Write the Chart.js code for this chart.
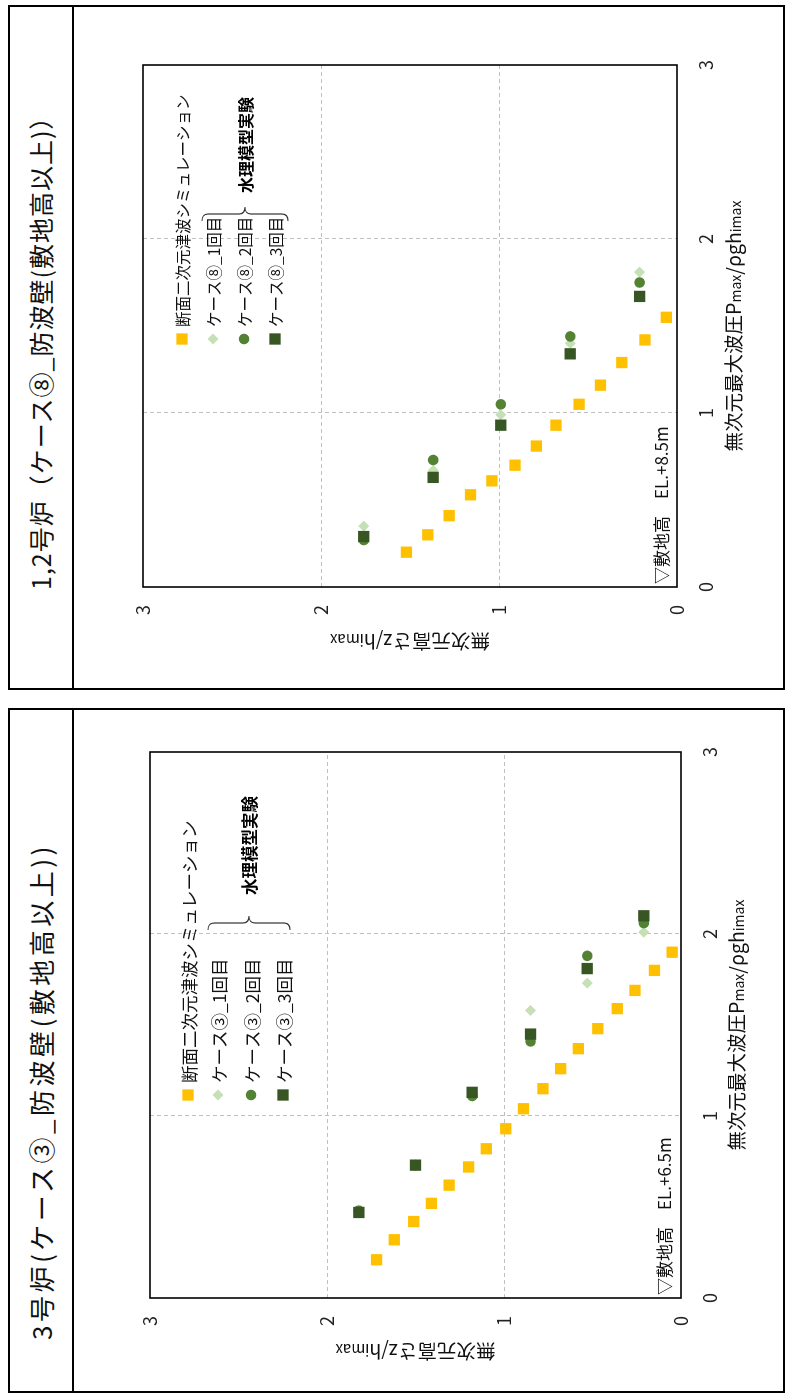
<!DOCTYPE html>
<html lang="ja">
<head>
<meta charset="utf-8">
<title>無次元最大波圧と無次元高さ</title>
<script src="https://cdn.jsdelivr.net/npm/chart.js@4.4.1/dist/chart.umd.min.js"></script>
<style>
  html, body { margin: 0; padding: 0; background: #fff; }
  body { width: 787px; height: 1393px; position: relative; overflow: hidden;
         font-family: "Noto Sans CJK JP", "Noto Sans", sans-serif; }
  .panel { position: absolute; transform-origin: 0 0; transform: rotate(-90deg); }
  .frame { position: absolute; left: 0; top: 0; right: 0; bottom: 0; border: 2px solid #000; box-sizing: border-box; }
  .band { position: absolute; left: 0; right: 0; top: 64px; height: 2px; background: #000; }
  .title { position: absolute; top: 0; height: 65px; line-height: 65px; font-size: 25px; white-space: nowrap; color: #111; }
  .panel canvas { position: absolute; left: 0; top: 0; }
</style>
</head>
<body>

<div class="panel" id="panel8" style="left:8px; top:690px; width:685px; height:777px;">
  <div class="frame"></div>
  <div class="band"></div>
  <div class="title" style="left:100px; letter-spacing:1px;">1,2号炉（ケース⑧_防波壁(敷地高以上)）</div>
  <canvas id="chart8" width="685" height="777"></canvas>
</div>

<div class="panel" id="panel3" style="left:8px; top:1393px; width:685px; height:777px;">
  <div class="frame"></div>
  <div class="band"></div>
  <div class="title" style="left:53px; font-size:26px; letter-spacing:3.5px;">3号炉(ケース③_防波壁(敷地高以上))</div>
  <canvas id="chart3" width="685" height="777"></canvas>
</div>

<script>
// 目盛
const axisTicks = [0, 1, 2, 3];

// 1,2号炉 ケース⑧ : 断面二次元津波シミュレーション
const simPressure8 = [0.20, 0.30, 0.41, 0.53, 0.61, 0.70, 0.81, 0.93, 1.05, 1.16, 1.29, 1.42, 1.55];
const simHeight8   = [1.52, 1.40, 1.28, 1.16, 1.04, 0.91, 0.79, 0.68, 0.55, 0.43, 0.31, 0.18, 0.06];
// 1,2号炉 ケース⑧ : 水理模型実験
const expHeight8    = [1.76, 1.37, 0.99, 0.60, 0.21];
const exp1Pressure8 = [0.35, 0.67, 0.99, 1.40, 1.81];
const exp2Pressure8 = [0.27, 0.73, 1.05, 1.44, 1.75];
const exp3Pressure8 = [0.29, 0.63, 0.93, 1.34, 1.67];

// 3号炉 ケース③ : 断面二次元津波シミュレーション
const simPressure3 = [0.21, 0.32, 0.42, 0.52, 0.62, 0.72, 0.82, 0.93, 1.04, 1.15, 1.26, 1.37, 1.48, 1.59, 1.69, 1.80, 1.90];
const simHeight3   = [1.72, 1.62, 1.51, 1.41, 1.31, 1.20, 1.10, 0.99, 0.89, 0.78, 0.68, 0.58, 0.47, 0.36, 0.26, 0.15, 0.05];
// 3号炉 ケース③ : 水理模型実験
const expHeight3    = [1.82, 1.50, 1.18, 0.85, 0.53, 0.21];
const exp1Pressure3 = [0.47, 0.73, 1.12, 1.58, 1.73, 2.01];
const exp2Pressure3 = [0.48, 0.73, 1.11, 1.41, 1.88, 2.06];
const exp3Pressure3 = [0.47, 0.73, 1.13, 1.45, 1.81, 2.10];

const FONT = '"Noto Sans CJK JP", "Noto Sans", sans-serif';
const toPoints = (xs, ys) => xs.map((x, i) => ({ x: x, y: ys[i] }));

const markerStyles = [
  { style: 'rect', radius: 8, color: '#FFC000' },
  { style: 'rectRot', radius: 5.5, color: '#C5E0B4' },
  { style: 'circle', radius: 5.3, color: '#548235' },
  { style: 'rect', radius: 8, color: '#375623' }
];

function drawMarker(ctx, m, x, y) {
  ctx.fillStyle = m.color;
  ctx.beginPath();
  if (m.style === 'circle') {
    ctx.arc(x, y, m.radius, 0, Math.PI * 2);
  } else if (m.style === 'rectRot') {
    ctx.moveTo(x - m.radius, y);
    ctx.lineTo(x, y - m.radius);
    ctx.lineTo(x + m.radius, y);
    ctx.lineTo(x, y + m.radius);
    ctx.closePath();
  } else {
    const s = m.radius * Math.SQRT1_2;
    ctx.rect(x - s, y - s, s * 2, s * 2);
  }
  ctx.fill();
}

// 文字列を大きさの違う部分ごとに描く
function drawRuns(ctx, runs, cx, cy) {
  let total = 0;
  runs.forEach(r => { ctx.font = r.size + 'px ' + FONT; r.w = ctx.measureText(r.t).width; total += r.w; });
  let x = cx - total / 2;
  ctx.textBaseline = 'alphabetic';
  ctx.textAlign = 'left';
  runs.forEach(r => {
    ctx.font = r.size + 'px ' + FONT;
    ctx.fillText(r.t, x, cy + 6);
    x += r.w;
  });
}

const decorations = {
  id: 'decorations',
  afterDraw(chart, args, o) {
    const ctx = chart.ctx;
    const a = chart.chartArea;
    ctx.save();

    // プロットエリア枠
    ctx.strokeStyle = '#000';
    ctx.lineWidth = 1.6;
    ctx.strokeRect(a.left, a.top, a.right - a.left, a.bottom - a.top);

    // 凡例
    const lx = a.left + o.legendX;
    o.legendRows.forEach((dy, i) => {
      drawMarker(ctx, markerStyles[i], lx, a.top + dy);
      ctx.fillStyle = '#111';
      ctx.font = o.legendFont + 'px ' + FONT;
      ctx.textAlign = 'left';
      ctx.textBaseline = 'middle';
      ctx.fillText(o.legendLabels[i], lx + 12, a.top + dy + 1);
    });

    // 中括弧
    const bx = a.left + o.braceX;
    const y0 = a.top + o.braceTop, y1 = a.top + o.braceBottom, ym = (y0 + y1) / 2;
    const bw = 14, r = 6;
    ctx.strokeStyle = '#333';
    ctx.lineWidth = 1.2;
    ctx.beginPath();
    ctx.moveTo(bx, y0);
    ctx.quadraticCurveTo(bx + bw / 2, y0, bx + bw / 2, y0 + r);
    ctx.lineTo(bx + bw / 2, ym - r);
    ctx.quadraticCurveTo(bx + bw / 2, ym, bx + bw, ym);
    ctx.quadraticCurveTo(bx + bw / 2, ym, bx + bw / 2, ym + r);
    ctx.lineTo(bx + bw / 2, y1 - r);
    ctx.quadraticCurveTo(bx + bw / 2, y1, bx, y1);
    ctx.stroke();

    ctx.fillStyle = '#000';
    ctx.font = 'bold ' + o.groupFont + 'px ' + FONT;
    ctx.textBaseline = 'middle';
    ctx.fillText('水理模型実験', a.left + o.groupX, a.top + o.groupY);

    // 敷地高
    ctx.fillStyle = '#111';
    ctx.font = '17px ' + FONT;
    ctx.fillText(o.groundLabel, a.left + 3, a.bottom - o.groundY);

    // 軸ラベル
    drawRuns(ctx, [
      { t: '無次元最大波圧', size: 19.5 },
      { t: 'P', size: 19.5 },
      { t: 'max', size: 14 },
      { t: '/ρgh', size: 19.5 },
      { t: 'imax', size: 14 }
    ], (a.left + a.right) / 2, a.bottom + o.xTitle);

    ctx.save();
    ctx.translate(a.left - o.yTitle, (a.top + a.bottom) / 2);
    ctx.rotate(-Math.PI / 2);
    drawRuns(ctx, [
      { t: '無次元高さ', size: 19.5 },
      { t: 'z/h', size: 19.5 },
      { t: 'imax', size: 15 }
    ], 0, 0);
    ctx.restore();

    ctx.restore();
  }
};

function makeScale(boxFn, pad) {
  return {
    type: 'linear',
    min: axisTicks[0],
    max: axisTicks[axisTicks.length - 1],
    afterFit: boxFn,
    afterBuildTicks: s => { s.ticks = axisTicks.map(v => ({ value: v })); },
    grid: {
      drawTicks: false,
      lineWidth: 1,
      color: c => (c.tick && (c.tick.value === 0 || c.tick.value === 3)) ? 'rgba(0,0,0,0)' : '#BFBFBF'
    },
    border: { display: false, dash: [4, 3] },
    ticks: { padding: pad, color: '#222', font: { size: 18, family: FONT } }
  };
}

function makeChart(id, cfg) {
  // 後の系列ほど上に描く（Excel と同じ重なり）
  const datasets = cfg.series.map((s, i) => ({
    label: cfg.labels[i],
    data: toPoints(s.x, s.y),
    order: cfg.series.length - i,
    pointStyle: markerStyles[i].style,
    pointRadius: markerStyles[i].radius,
    pointBackgroundColor: markerStyles[i].color,
    pointBorderWidth: 0,
    showLine: false
  }));
  return new Chart(document.getElementById(id), {
    type: 'scatter',
    data: { datasets: datasets },
    options: {
      responsive: false,
      animation: false,
      devicePixelRatio: 1,
      layout: { padding: cfg.padding },
      plugins: {
        legend: { display: false },
        tooltip: { enabled: false },
        decorations: cfg.deco
      },
      scales: {
        x: makeScale(s => { s.height = cfg.xBox; }, 18),
        y: makeScale(s => { s.width = cfg.yBox; }, 18)
      }
    },
    plugins: [decorations]
  });
}

makeChart('chart8', {
  labels: ['断面二次元津波シミュレーション', 'ケース⑧_1回目', 'ケース⑧_2回目', 'ケース⑧_3回目'],
  series: [
    { x: simPressure8, y: simHeight8 },
    { x: exp1Pressure8, y: expHeight8 },
    { x: exp2Pressure8, y: expHeight8 },
    { x: exp3Pressure8, y: expHeight8 }
  ],
  padding: { left: 0, right: 60, top: 135, bottom: 0 },
  xBox: 108,
  yBox: 103,
  deco: {
    legendX: 248, legendRows: [39, 70, 101, 132], legendFont: 15.5,
    legendLabels: ['断面二次元津波シミュレーション', 'ケース⑧_1回目', 'ケース⑧_2回目', 'ケース⑧_3回目'],
    braceX: 366, braceTop: 59, braceBottom: 145,
    groupX: 394, groupY: 103, groupFont: 16,
    groundLabel: '▽敷地高　EL.+8.5m', groundY: 15,
    xTitle: 58, yTitle: 53
  }
});

makeChart('chart3', {
  labels: ['断面二次元津波シミュレーション', 'ケース③_1回目', 'ケース③_2回目', 'ケース③_3回目'],
  series: [
    { x: simPressure3, y: simHeight3 },
    { x: exp1Pressure3, y: expHeight3 },
    { x: exp2Pressure3, y: expHeight3 },
    { x: exp3Pressure3, y: expHeight3 }
  ],
  padding: { left: 0, right: 44, top: 142, bottom: 0 },
  xBox: 104,
  yBox: 95,
  deco: {
    legendX: 203, legendRows: [38, 68, 101, 133], legendFont: 17.5,
    legendLabels: ['断面二次元津波シミュレーション', 'ケース③_1回目', 'ケース③_2回目', 'ケース③_3回目'],
    braceX: 368, braceTop: 58, braceBottom: 140,
    groupX: 403, groupY: 100, groupFont: 16.5,
    groundLabel: '▽敷地高　EL.+6.5m', groundY: 16,
    xTitle: 57, yTitle: 52
  }
});
</script>
</body>
</html>
